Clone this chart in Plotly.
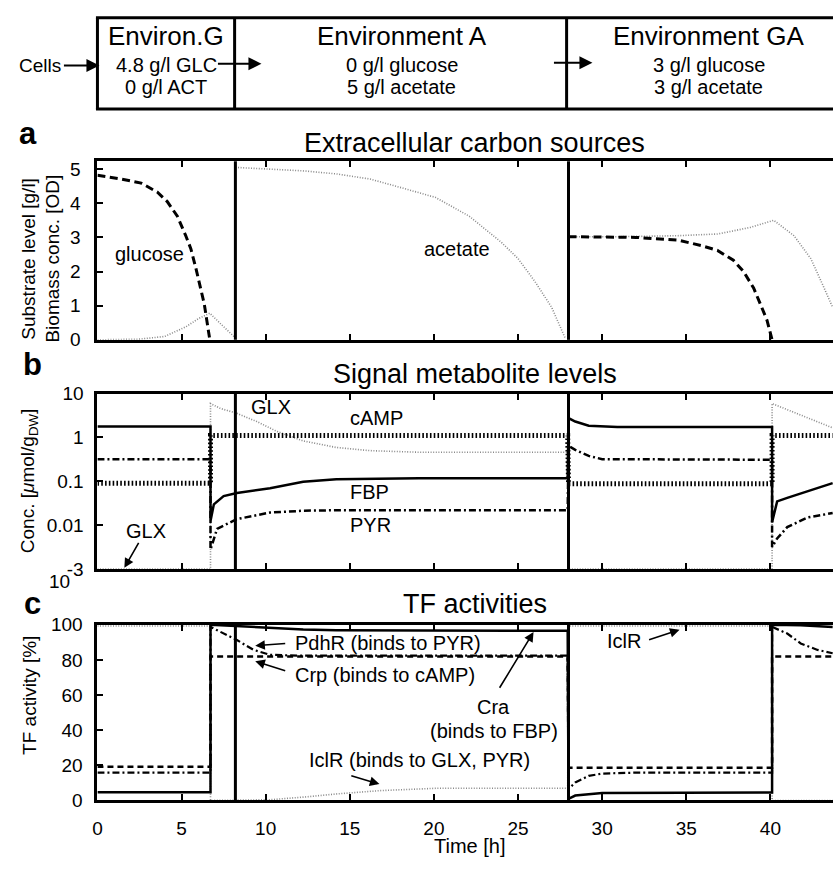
import math
import plotly.graph_objects as go

# ---------------- data ----------------
switch_times = [8.2, 28.0]
x_ticks = [0, 5, 10, 15, 20, 25, 30, 35, 40]

# panel a: extracellular substrates [g/l]
glc_t = [0, 1.4, 2.6, 3.55, 4.15, 4.75, 5.25, 5.55, 5.85, 6.15, 6.35, 6.5, 6.68, None,
         28, 30, 32, 34.5, 35.9, 36.85, 37.8, 38.4, 39.0, 39.4, 39.8, 40.1]
glc_v = [4.82, 4.71, 4.59, 4.33, 4.05, 3.62, 3.05, 2.67, 2.1, 1.52, 1.05, 0.57, 0.0, None,
         3.02, 3.02, 3.0, 2.92, 2.76, 2.62, 2.33, 2.0, 1.52, 1.05, 0.57, 0.0]
act_t = [0, 2.5, 4, 5.25, 6.0, 6.68, 7.3, 7.9, 8.15, None,
         8.2, 10.3, 12.2, 14.2, 16.2, 18.1, 20.1, 22.1, 24.0, 25.0, 26.0, 27.0, 27.8, None,
         28, 31, 34.5, 36.85, 38.8, 40.2, 41.4, 42.4, 43.1, 43.7]
act_v = [0, 0.02, 0.1, 0.38, 0.62, 0.78, 0.48, 0.2, 0.08, None,
         5.05, 5.0, 4.95, 4.86, 4.71, 4.45, 4.17, 3.62, 2.86, 2.38, 1.71, 0.95, 0.05, None,
         3.02, 3.02, 3.05, 3.1, 3.29, 3.5, 3.05, 2.38, 1.62, 0.95]

# panel b: signal metabolites [umol/gDW]
fbp_t = [0, 6.72, 6.72, 6.92, 7.5, 8.29, 10.26, 12.23, 14.2, 19.1, 27.95,
         28.0, 28.4, 29.2, 30.9, 40.1, 40.1, 40.4, 41.0, 42.2, 43.7]
fbp_v = [1.78, 1.78, 0.0125, 0.03, 0.046, 0.054, 0.07, 0.098, 0.112, 0.117, 0.117,
         2.75, 2.3, 1.85, 1.73, 1.72, 0.0117, 0.035, 0.042, 0.059, 0.091]
pyr_t = [0, 6.72, 6.72, 7.11, 8.29, 10.26, 12.23, 14.2, 27.95,
         28.0, 28.4, 29.2, 30.0, 40.1, 40.1, 40.4, 41.0, 42.2, 43.7]
pyr_v = [0.32, 0.32, 0.0028, 0.0083, 0.0138, 0.0195, 0.0214, 0.022, 0.022,
         0.64, 0.52, 0.38, 0.32, 0.31, 0.0032, 0.005, 0.0091, 0.015, 0.019]
camp_t = [0, 6.72, 6.72, 27.95, 28.0, 40.1, 40.1, 43.7]
camp_v = [0.091, 0.091, 1.1, 1.1, 0.088, 0.088, 1.1, 1.1]
glx_t = [0, 6.72, 6.72, 7.31, 8.29, 9.47, 10.65, 12.23, 14.2, 16.2, 19.1, 27.95,
         28.0, 40.1, 40.1, 41.8, 43.7]
glx_v = [0.001, 0.001, 5.9, 4.57, 3.53, 2.3, 1.38, 0.83, 0.59, 0.5, 0.46, 0.46,
         0.001, 0.001, 5.9, 3.24, 1.65]
conc_tickvals = [10, 1, 0.1, 0.01, 0.001]
conc_ticktext = ["10", "1", "0.1", "0.01", "-3"]

# panel c: TF activities [%]
cra_t = [0, 6.72, 6.72, 8.2, 10.06, 12.23, 14.2, 27.95, 28.0, 28.4, 30.0, 40.1, 40.1, 41.8, 43.7]
cra_v = [4.66, 4.66, 100, 99.3, 98.4, 97.3, 96.9, 96.6, 0.9, 2.8, 4.3, 4.5, 100, 99.7, 98.8]
crp_t = [0, 6.72, 6.72, 27.95, 28.0, 40.1, 40.1, 43.7]
crp_v = [19.2, 19.2, 82.0, 82.0, 18.6, 18.6, 82.0, 82.0]
pdhr_t = [0, 6.72, 6.72, 7.31, 8.29, 9.28, 10.26, 12.23, 27.95,
          28.0, 28.4, 29.2, 30.0, 31.9, 40.1, 40.1, 41.0, 41.8, 42.8, 43.7]
pdhr_v = [15.8, 15.8, 98.8, 96, 91.3, 85.7, 82.9, 82.4, 82.4,
          6.5, 10.2, 14.0, 15.3, 15.8, 15.8, 98.8, 95, 89.4, 85.7, 83.8]
iclr_t = [0, 6.72, 6.72, 8.2, 10.26, 12.23, 14.2, 16.8, 19.1, 20.1, 27.95, 28.0, 40.1, 40.1, 43.7]
iclr_v = [99.3, 99.3, 0, 0, 0.4, 1.9, 3.7, 5.6, 6.5, 6.9, 6.9, 99.3, 99.3, 0, 0]

# ---------------- helpers ----------------
W, H = 833, 870
FONT = "Liberation Sans, Arial, Helvetica, sans-serif"
def PX(x): return x / W
def PY(y): return 1 - y / H

GREY = "#8a8a8a"
DOT = "1px,1.6px"
DASH = "8px,4.5px"
DASHDOT = "7px,3px,2px,3px"
CAMPDOT = "1.6px,2.2px"

fig = go.Figure()
def line(t, v, ax, color="black", width=2.5, dash="solid"):
    fig.add_trace(go.Scatter(x=t, y=v, mode="lines", xaxis="x" + ax, yaxis="y" + ax,
                             line=dict(color=color, width=width, dash=dash),
                             showlegend=False, hoverinfo="skip"))

# panel a
line(act_t, act_v, "", GREY, 1.6, DOT)
line(glc_t, glc_v, "", "black", 3, DASH)
# panel b
line(glx_t, glx_v, "2", GREY, 1.6, DOT)
line(camp_t, camp_v, "2", "black", 5, CAMPDOT)
line(pyr_t, pyr_v, "2", "black", 2.5, DASHDOT)
line(fbp_t, fbp_v, "2", "black", 2.5, "solid")
# panel c
line(iclr_t, iclr_v, "3", GREY, 1.6, DOT)
line(pdhr_t, pdhr_v, "3", "black", 2.2, DASHDOT)
line(crp_t, crp_v, "3", "black", 2.5, "6px,4px")
line(cra_t, cra_v, "3", "black", 2.5, "solid")

xdom = [PX(93), 1]
doms = {"": [PY(338), PY(155)], "2": [PY(573), PY(393)], "3": [PY(810), PY(630)]}

def xaxis(labels):
    return dict(domain=xdom, range=[0, 43.72], tickvals=x_ticks, ticks="inside",
                ticklen=6, tickwidth=1.5, tickcolor="black", showline=True, linewidth=3,
                linecolor="black", mirror="allticks", showgrid=False, zeroline=False,
                showticklabels=labels, ticklabelstandoff=9,
                tickfont=dict(size=19, family=FONT, color="black"))

def yaxis(dom, anchor, standoff, **kw):
    d = dict(domain=dom, anchor=anchor, ticks="inside", ticklen=6, tickwidth=1.5,
             tickcolor="black", showline=True, linewidth=3, linecolor="black",
             mirror=False, showgrid=False, zeroline=False, ticklabelstandoff=standoff,
             tickfont=dict(size=19, family=FONT, color="black"))
    d.update(kw)
    return d

layout = dict(
    width=W, height=H, autosize=False,
    margin=dict(l=0, r=0, t=0, b=0),
    paper_bgcolor="white", plot_bgcolor="white",
    font=dict(family=FONT, color="black"),
    xaxis=dict(xaxis(False), anchor="y"),
    xaxis2=dict(xaxis(False), anchor="y2"),
    xaxis3=dict(xaxis(True), anchor="y3"),
    yaxis=yaxis(doms[""], "x", 10, range=[0, 5.23], tickvals=[0, 1, 2, 3, 4, 5]),
    yaxis2=yaxis(doms["2"], "x2", 7, type="log", range=[-3, 1], tickvals=conc_tickvals,
                 ticktext=conc_ticktext),
    yaxis3=yaxis(doms["3"], "x3", 8, range=[0, 100], tickvals=[0, 20, 40, 60, 80, 100]),
)
fig.update_layout(**layout)

shapes = []
for ax in ["", "2", "3"]:
    for ts in switch_times:
        shapes.append(dict(type="line", xref="x" + ax, yref=("y" + ax) + " domain",
                           x0=ts, x1=ts, y0=0, y1=1, line=dict(color="black", width=3)))
hdr_top, hdr_bot = 8, 101.5
shapes.append(dict(type="line", xref="paper", yref="paper", x0=PX(91.5), x1=1.02,
                   y0=PY(hdr_top), y1=PY(hdr_top), line=dict(color="black", width=3)))
shapes.append(dict(type="line", xref="paper", yref="paper", x0=PX(91.5), x1=1.02,
                   y0=PY(hdr_bot), y1=PY(hdr_bot), line=dict(color="black", width=3)))
for xv in [93, 231, 565]:
    shapes.append(dict(type="line", xref="paper", yref="paper", x0=PX(xv), x1=PX(xv),
                       y0=PY(hdr_top), y1=PY(hdr_bot), line=dict(color="black", width=3)))
fig.update_layout(shapes=shapes)

ann = []
def txt(x, y, s, size=20, bold=False, angle=0, xanchor="center"):
    ann.append(dict(x=PX(x), y=PY(y), xref="paper", yref="paper", text=("<b>%s</b>" % s) if bold else s,
                    showarrow=False, xanchor=xanchor, yanchor="middle", textangle=angle,
                    font=dict(size=size, family=FONT, color="black")))

def parrow(x0, y0, x1, y1, width=2, size=1.3):
    ann.append(dict(x=PX(x1), y=PY(y1), ax=x0 - x1, ay=y0 - y1, xref="paper", yref="paper",
                    axref="pixel", ayref="pixel", text="", showarrow=True, arrowhead=2,
                    arrowsize=size, arrowwidth=width, arrowcolor="black"))

def dtxt(ax, t, v, s, size=20):
    ann.append(dict(x=t, y=v, xref="x" + ax, yref="y" + ax, text=s, showarrow=False,
                    xanchor="center", yanchor="middle",
                    font=dict(size=size, family=FONT, color="black")))

def darrow(ax, t0, v0, t1, v1):
    ann.append(dict(x=t1, y=v1, ax=t0, ay=v0, xref="x" + ax, yref="y" + ax,
                    axref="x" + ax, ayref="y" + ax, text="", showarrow=True, arrowhead=2,
                    arrowsize=1.2, arrowwidth=1.6, arrowcolor="black"))

# header texts
txt(162, 27, "Environ.G", 26)
txt(162, 56, "4.8 g/l GLC", 20)
txt(162, 79, "0 g/l ACT", 20)
txt(399, 27, "Environment A", 26)
txt(399, 56, "0 g/l glucose", 20)
txt(399, 79, "5 g/l acetate", 20)
txt(708, 27, "Environment GA", 26)
txt(708, 56, "3 g/l glucose", 20)
txt(708, 79, "3 g/l acetate", 20)
txt(35, 57, "Cells", 19)
parrow(58, 57, 95, 57)
parrow(213, 55, 258, 55)
parrow(551, 54, 591, 54)

# panel letters and titles
txt(23, 127, "a", 31, bold=True)
txt(28, 363, "b", 31, bold=True)
txt(28, 608, "c", 31, bold=True)
txt(472.5, 136, "Extracellular carbon sources", 27)
txt(472.5, 373, "Signal metabolite levels", 27)
txt(472.5, 609, "TF activities", 27)

# axis titles
txt(24, 255, "Substrate level [g/l]", 19, angle=-90)
txt(48, 255, "Biomass conc. [OD]", 19, angle=-90)
txt(25, 482, "Conc. [<i>μ</i>mol/g<sub>DW</sub>]", 19, angle=-90)
txt(24, 702, "TF activity [%]", 19, angle=-90)
txt(467.5, 857, "Time [h]", 20)
txt(55, 586, "10", 19)

# panel a labels
dtxt("", 3.07, 2.5, "glucose")
dtxt("", 21.4, 2.65, "acetate")
# panel b labels (log axis: annotation y in log10 units)
dtxt("2", 10.3, math.log10(5.0), "GLX")
dtxt("2", 16.6, math.log10(2.77), "cAMP")
dtxt("2", 16.2, math.log10(0.057), "FBP")
dtxt("2", 16.25, math.log10(0.01), "PYR")
dtxt("2", 2.9, math.log10(0.0074), "GLX")
darrow("2", 2.5, math.log10(0.0043), 1.6, math.log10(0.00107))
# panel c labels
ann.append(dict(x=11.6, y=89.4, xref="x3", yref="y3", text="PdhR (binds to PYR)", showarrow=False,
                xanchor="left", yanchor="middle", font=dict(size=20, family=FONT, color="black")))
ann.append(dict(x=11.6, y=71.5, xref="x3", yref="y3", text="Crp (binds to cAMP)", showarrow=False,
                xanchor="left", yanchor="middle", font=dict(size=20, family=FONT, color="black")))
darrow("3", 11.25, 89.4, 9.38, 88.1)
darrow("3", 11.25, 73.6, 9.38, 79.2)
dtxt("3", 23.55, 53, "Cra")
dtxt("3", 23.55, 39.7, "(binds to FBP)")
darrow("3", 23.85, 63.3, 25.92, 95.9)
dtxt("3", 19.17, 22.9, "IclR (binds to GLX, PYR)")
darrow("3", 15.0, 14.3, 16.76, 9.3)
dtxt("3", 31.3, 90.5, "IclR")
darrow("3", 32.7, 91.2, 34.6, 97.2)

fig.update_layout(annotations=ann)
css_fix = ("var s=document.createElement('style');"
           "s.innerHTML='html,body{margin:0!important;padding:0!important;overflow:hidden!important;}';"
           "document.head.appendChild(s);")
fig.write_html("out.html", config={"displayModeBar": False}, post_script=css_fix)
